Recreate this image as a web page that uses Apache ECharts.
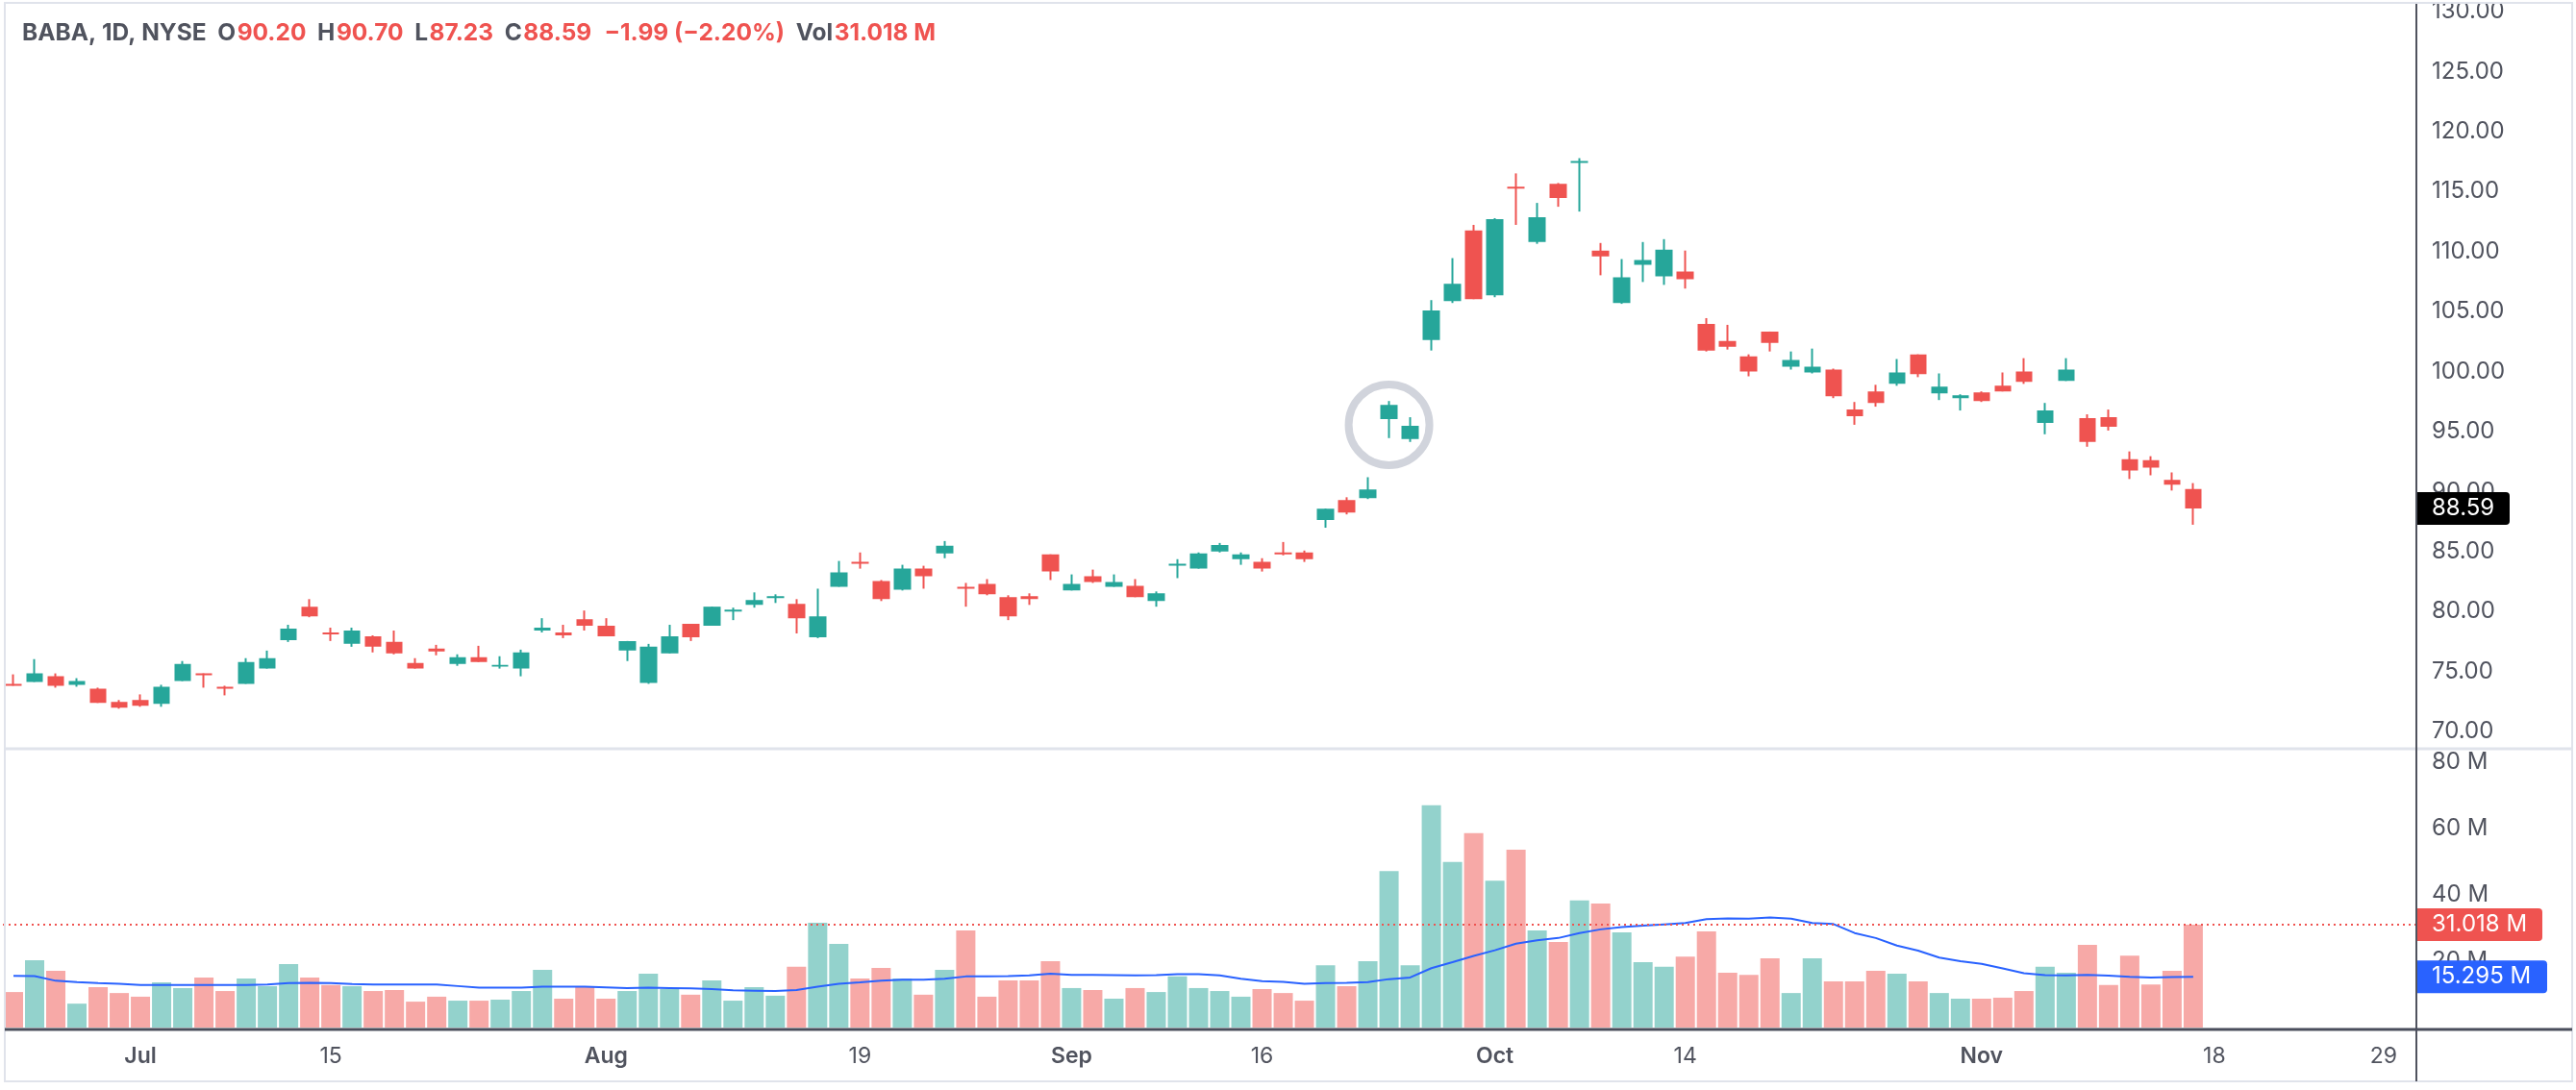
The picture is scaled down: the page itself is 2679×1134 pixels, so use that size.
<!DOCTYPE html>
<html>
<head>
<meta charset="utf-8">
<title>BABA, 1D, NYSE</title>
<script src="https://cdn.jsdelivr.net/npm/echarts@6/dist/echarts.min.js"></script>
<style>
html, body { margin: 0; padding: 0; background: #fff; }
#chart { width: 2679px; height: 1134px; }
</style>
</head>
<body>
<div id="chart"></div>
<script>
// one label per bar slot, ten slots a row; the last ten slots are future days
var dayLabels = [
	'','','','','','','Jul','','','',
	'','','','','','15','','','','',
	'','','','','','','','','Aug','',
	'','','','','','','','','','',
	'19','','','','','','','','','',
	'Sep','','','','','','','','','16',
	'','','','','','','','','','',
	'Oct','','','','','','','','','14',
	'','','','','','','','','','',
	'','','','Nov','','','','','','',
	'','','','','18','','','','','',
	'','','29',''
];

var opens = [73.97,74.13,74.60,73.89,73.57,72.46,72.62,72.30,74.20,74.84,73.73,73.97,75.24,77.62,80.40,78.25,77.30,77.93,77.46,75.71,76.90,75.63,76.19,75.40,75.24,78.41,78.25,79.36,78.81,76.74,74.05,76.51,78.97,78.81,80.00,80.55,81.11,80.63,77.86,82.06,84.13,82.54,81.82,83.57,84.84,82.06,82.30,81.19,81.27,84.76,81.75,82.94,82.06,82.14,80.87,83.81,83.57,85.00,84.36,84.13,84.92,84.92,87.62,89.28,89.44,96.03,94.37,102.62,105.87,111.75,106.35,115.40,110.79,115.64,117.38,110.08,105.71,108.89,107.94,108.33,103.97,102.54,101.27,103.33,100.40,99.92,100.16,96.83,98.34,98.97,101.43,98.18,97.78,98.26,98.81,100.00,95.72,99.21,96.11,96.19,92.70,92.62,90.96,90.20];
var highs = [74.76,76.03,74.84,74.44,73.65,72.62,73.09,73.89,75.87,74.84,73.81,76.11,76.74,78.89,81.03,78.65,78.65,78.01,78.41,76.11,77.22,76.43,77.14,76.27,76.82,79.44,78.89,80.08,79.44,77.54,77.30,78.89,78.97,80.40,80.32,81.59,81.43,81.03,81.90,84.21,84.92,82.62,83.89,83.81,85.87,82.38,82.70,81.35,81.51,84.76,83.09,83.49,83.09,82.70,81.67,84.36,84.92,85.71,84.92,84.44,85.79,85.08,88.57,89.52,91.19,97.54,96.19,105.95,109.45,112.22,112.78,116.51,114.05,115.71,117.78,110.71,109.37,110.79,111.03,110.08,104.45,103.89,101.43,103.33,101.67,101.91,100.24,97.46,98.89,101.04,101.43,99.84,98.10,98.34,99.92,101.11,97.38,101.11,96.43,96.83,93.34,92.94,91.59,90.70];
var lows = [73.81,74.13,73.65,73.73,72.38,71.90,72.06,72.06,74.20,73.65,73.01,73.97,75.24,77.46,79.52,77.54,77.06,76.59,76.43,75.24,76.35,75.47,75.79,75.24,74.60,78.25,77.78,78.41,77.93,75.87,73.97,76.51,77.54,78.81,79.28,80.32,80.71,78.17,77.78,82.06,83.57,80.87,81.75,81.90,84.44,80.40,81.35,79.28,80.55,82.62,81.75,82.38,82.06,81.19,80.40,82.78,83.57,84.92,83.89,83.33,84.68,84.13,86.98,88.09,89.37,94.45,94.13,101.75,105.71,106.03,106.19,112.22,110.64,113.73,113.33,108.02,105.64,107.46,107.22,106.91,101.67,101.83,99.60,101.67,100.16,99.84,97.78,95.56,97.07,98.81,99.53,97.62,96.75,97.46,98.34,98.97,94.77,99.21,93.73,95.08,91.04,91.35,90.08,87.23];
var closes = [73.81,74.84,73.81,74.20,72.38,71.98,72.14,73.73,75.63,74.68,73.57,75.79,76.11,78.57,79.60,78.09,78.41,77.06,76.51,75.24,76.67,76.19,75.79,75.55,76.59,78.65,78.01,78.81,77.93,77.54,77.06,77.93,77.86,80.40,80.16,80.95,81.27,79.44,79.60,83.25,83.97,81.03,83.57,82.94,85.48,81.90,81.43,79.60,81.03,83.33,82.30,82.46,82.46,81.19,81.51,83.97,84.84,85.55,84.76,83.57,84.76,84.36,88.57,88.25,90.16,97.22,95.48,105.08,107.30,106.03,112.70,115.24,112.86,114.45,117.54,109.60,107.86,109.29,110.16,107.70,101.75,102.06,100.00,102.38,100.96,100.40,97.94,96.27,97.38,99.92,99.77,98.73,98.02,97.54,98.34,99.13,96.75,100.16,94.13,95.40,91.75,91.99,90.56,88.59];

var volumes = [10.7,20.3,17.1,7.2,12.2,10.4,9.3,13.6,11.9,15.1,11.0,14.8,12.5,19.1,15.1,12.8,12.5,11.0,11.3,7.8,9.3,8.1,8.1,8.4,11.0,17.4,8.7,12.5,8.7,11.0,16.2,11.6,9.9,14.2,8.1,12.2,9.6,18.3,31.6,25.2,14.8,18.0,14.8,9.9,17.4,29.3,9.3,14.2,14.2,20.0,11.9,11.3,8.7,11.9,10.7,15.4,11.9,11.0,9.3,11.6,10.4,8.1,18.8,12.5,20.0,47.2,18.8,67.0,49.9,58.6,44.3,53.6,29.3,25.8,38.3,37.4,28.7,19.7,18.3,21.4,29.0,16.5,15.9,20.9,10.4,20.9,13.9,13.9,17.1,16.2,13.9,10.4,8.7,8.7,9.0,11.0,18.3,16.5,24.9,12.8,21.7,13.0,17.1,31.018];
var volumeAvg = [15.6,15.5,14.1,13.7,13.4,13.2,12.8,12.8,12.8,12.8,12.8,12.85,13.0,13.4,13.5,13.4,13.1,13.0,13.0,13.0,12.95,12.5,12.0,12.0,12.0,12.3,12.3,12.3,12.1,11.9,12.0,11.9,11.8,11.6,11.2,11.1,11.0,11.3,12.3,13.2,13.6,14.1,14.4,14.4,14.7,15.4,15.4,15.5,15.7,16.2,15.9,15.9,15.8,15.7,15.8,16.1,16.1,15.7,14.7,14.0,13.8,13.2,13.4,13.5,13.7,14.6,15.1,17.9,19.7,21.6,23.3,25.3,26.3,27.0,28.5,29.6,30.3,30.7,31.1,31.5,32.7,32.9,32.8,33.2,32.8,31.5,31.2,28.5,27.0,24.7,23.2,21.1,20.0,19.2,17.8,16.4,15.8,15.7,15.9,15.65,15.3,15.1,15.2,15.295];

var lastClose = 88.59;
var lastVolume = 31.018;
var lastVolumeAvg = 15.295;
var circledBar = 65;      // annotation ring sits on this bar
var circledPrice = 95.56;

var UP = '#26a69a', DOWN = '#ef5350';
var UP_SOFT = '#93d2cc', DOWN_SOFT = '#f7a9a7';
var INK = '#50535e', FRAME = '#e0e3eb', BLUE = '#2962ff';
var FONT = 'Inter';

var candles = opens.map(function (o, i) {
	return [o, closes[i], lows[i], highs[i]];
});
var volumeBars = volumes.map(function (v, i) {
	return { value: v, itemStyle: { color: closes[i] > opens[i] ? UP_SOFT : DOWN_SOFT } };
});

// price tag hanging off the right axis
function axisTag(value, text, color, width) {
	return {
		silent: true,
		symbol: 'none',
		animation: false,
		lineStyle: { color: 'rgba(0,0,0,0)', width: 0 },
		data: [{ yAxis: value }],
		label: {
			show: true, position: 'end', distance: 0, formatter: text,
			color: '#fff', fontFamily: FONT, fontSize: 24, align: 'left', verticalAlign: 'middle',
			backgroundColor: color, borderRadius: [0, 4, 4, 0],
			width: width, height: 34, lineHeight: 34, padding: [0, 0, 0, 17]
		}
	};
}

var redLine = axisTag(lastVolume, '31.018 M', '#ef5350', 115);
redLine.lineStyle = { color: DOWN, type: [2, 4], width: 2 };

var option = {
	animation: false,
	backgroundColor: '#fff',
	title: {
		left: 23, top: 22, padding: 0,
		text: '{g|BABA, 1D, NYSE  O}{r|90.20}{g|  H}{r|90.70}{g|  L}{r|87.23}{g|  C}{r|88.59}{r|  −1.99 (−2.20%)}{g|  Vol}{r|31.018 M}',
		textStyle: {
			rich: {
				g: { color: INK, fontFamily: FONT, fontSize: 24.5 },
				r: { color: DOWN, fontFamily: FONT, fontSize: 24.5, padding: [0, 0, 0, 1.5] }
			}
		}
	},
	grid: [
		{ left: 3, width: 2509, top: 5, height: 756 },
		{ left: 3, width: 2509, top: 793, height: 276 }
	],
	xAxis: [
		{ type: 'category', gridIndex: 0, data: dayLabels, show: false, boundaryGap: true },
		{
			type: 'category', gridIndex: 1, data: dayLabels, boundaryGap: true,
			axisLine: { show: false }, axisTick: { show: false },
			axisLabel: {
				interval: 0, margin: 19, hideOverlap: false,
				color: INK, fontFamily: FONT, fontSize: 23,
				formatter: function (v) {
					return /[a-z]/i.test(v) ? '{m|' + v + '}' : v;
				},
				rich: { m: { color: INK, fontFamily: FONT, fontSize: 23, fontWeight: 600 } }
			}
		}
	],
	yAxis: [
		{
			type: 'value', gridIndex: 0, position: 'right', min: 70, max: 130, interval: 5, scale: true,
			axisLine: { show: false }, axisTick: { show: false }, splitLine: { show: false },
			axisLabel: {
				margin: 17, color: INK, fontFamily: FONT, fontSize: 24, padding: [0, 0, 3, 0],
				formatter: function (v) { return v.toFixed(2); }
			}
		},
		{
			type: 'value', gridIndex: 1, position: 'right', min: 0, max: 80, interval: 20,
			axisLine: { show: false }, axisTick: { show: false }, splitLine: { show: false },
			axisLabel: {
				margin: 17, color: INK, fontFamily: FONT, fontSize: 24,
				formatter: function (v) { return v > 0 ? v + ' M' : ''; }
			}
		}
	],
	series: [
		// wicks only, the body here is a hairline under the real one
		{
			type: 'candlestick', xAxisIndex: 0, yAxisIndex: 0,
			data: candles, barWidth: 1, z: 2,
			itemStyle: { color: UP, color0: DOWN, borderColor: UP, borderColor0: DOWN, borderWidth: 2 }
		},
		// bodies, no stroke so their height stays exact
		{
			type: 'candlestick', xAxisIndex: 0, yAxisIndex: 0,
			data: candles, barWidth: 18, z: 3,
			itemStyle: { color: UP, color0: DOWN, borderColor: UP, borderColor0: DOWN, borderWidth: 0 },
			markLine: axisTag(lastClose, '88.59', '#000', 81),
			markPoint: {
				silent: true, animation: false,
				symbol: 'circle', symbolSize: 84,
				itemStyle: { color: 'transparent', borderColor: '#d1d4dc', borderWidth: 8 },
				label: { show: false },
				data: [{ coord: [circledBar, circledPrice] }]
			}
		},
		{
			type: 'bar', xAxisIndex: 1, yAxisIndex: 1,
			data: volumeBars, barWidth: 20,
			markLine: redLine
		},
		{
			type: 'line', xAxisIndex: 1, yAxisIndex: 1,
			data: volumeAvg, showSymbol: false, smooth: false,
			lineStyle: { color: BLUE, width: 2 },
			markLine: axisTag(lastVolumeAvg, '15.295 M', BLUE, 120)
		}
	],
	graphic: [
		// hides the top half of the 130.00 label, the pane cuts it off in the original
		{ type: 'rect', z: 100, shape: { x: 0, y: 0, width: 2679, height: 4 }, style: { fill: '#fff' } },
		{ type: 'rect', z: 101, shape: { x: 5, y: 3, width: 2670, height: 1122 }, style: { fill: 'none', stroke: FRAME, lineWidth: 2 } },
		{ type: 'line', z: 101, shape: { x1: 5, y1: 779, x2: 2675, y2: 779 }, style: { stroke: FRAME, lineWidth: 3 } },
		{ type: 'line', z: 102, shape: { x1: 2513, y1: 4, x2: 2513, y2: 1125 }, style: { stroke: INK, lineWidth: 2 } },
		{ type: 'line', z: 102, shape: { x1: 5, y1: 1071, x2: 2675, y2: 1071 }, style: { stroke: '#4a4e5c', lineWidth: 3 } }
	]
};

var myChart = echarts.init(document.getElementById('chart'), null, { renderer: 'canvas' });
myChart.setOption(option);
</script>
</body>
</html>
